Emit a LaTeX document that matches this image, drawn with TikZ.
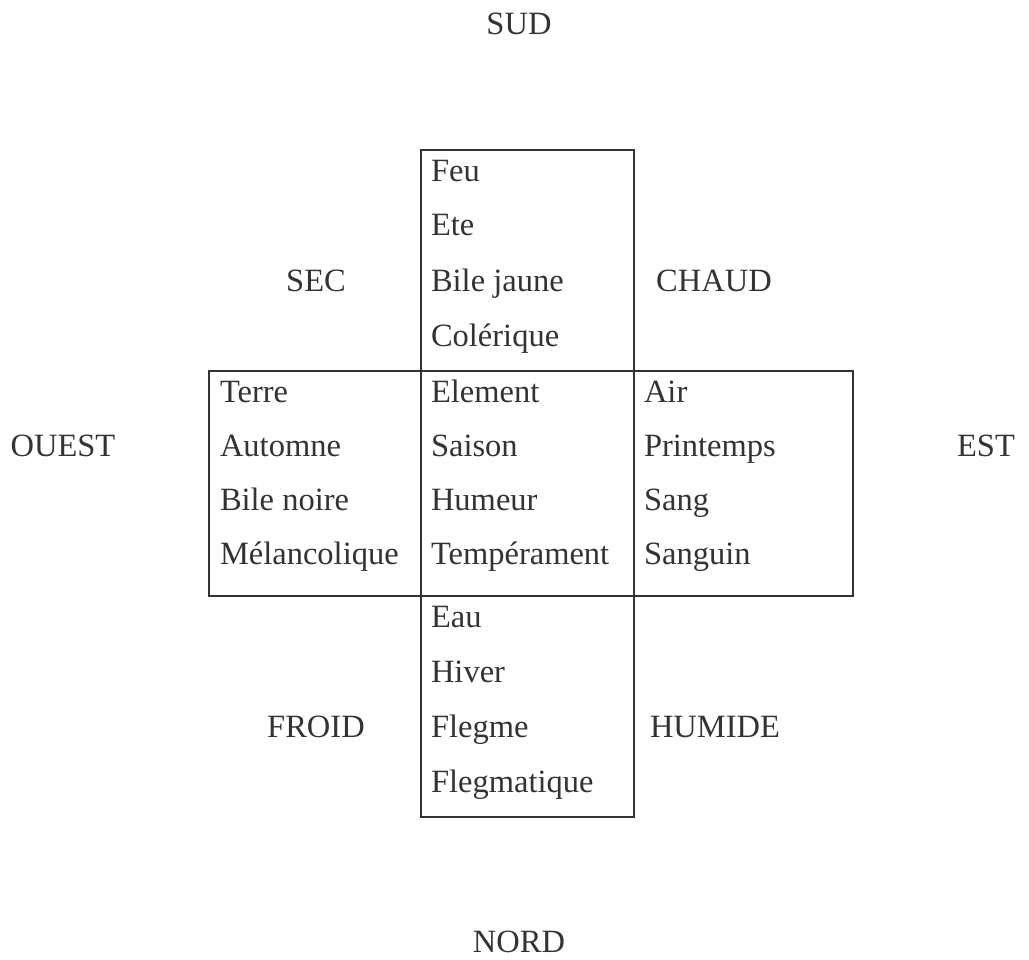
\documentclass[tikz,border=0pt]{standalone}
\usepackage{fontspec}
\setmainfont{Liberation Serif}
\usepackage{tikz}
\definecolor{ink}{HTML}{333333}

\begin{document}
\begin{tikzpicture}[x=1pt,y=-1pt,line width=2pt,draw=ink,
                    every node/.style={text=ink,inner sep=0pt,
                      font=\fontsize{32.5}{38}\selectfont}]
  \tikzstyle{cell}=[anchor=base west]
  \tikzstyle{pole}=[anchor=base]
  \useasboundingbox (0,0) rectangle (1029,960);

  % frame of the cross
  \coordinate (tl) at (421,150);
  \coordinate (br) at (634,817);
  \coordinate (ml) at (209,371);
  \coordinate (mr) at (853,596);
  \draw[ink] (tl) rectangle (br);
  \draw[ink] (ml) rectangle (mr);

  % directions and qualities
  \node[pole] (sud)    at (519,35)  {SUD};
  \node[pole] (nord)   at (519,952) {NORD};
  \node[pole] (ouest)  at (63,456)  {OUEST};
  \node[pole] (est)    at (986,456) {EST};
  \node[pole] (sec)    at (316,292) {SEC};
  \node[pole] (chaud)  at (714,292) {CHAUD};
  \node[pole] (froid)  at (316,737) {FROID};
  \node[pole] (humide) at (715,737) {HUMIDE};

  % top cell
  \node[cell] (feu)       at (430,182) {Feu};
  \node[cell] (ete)       at (430,236) {Ete};
  \node[cell] (bilej)     at (430,292) {Bile jaune};
  \node[cell] (colerique) at (430,346) {Colérique};

  % left cell
  \node[cell] (terre)     at (219,402) {Terre};
  \node[cell] (automne)   at (219,456) {Automne};
  \node[cell] (bilen)     at (219,510) {Bile noire};
  \node[cell] (melanco)   at (219,564) {Mélancolique};

  % middle cell
  \node[cell] (element)   at (430,402) {Element};
  \node[cell] (saison)    at (430,456) {Saison};
  \node[cell] (humeur)    at (430,510) {Humeur};
  \node[cell] (temper)    at (430,564) {Tempérament};

  % right cell
  \node[cell] (air)       at (643,402) {Air};
  \node[cell] (printemps) at (643,456) {Printemps};
  \node[cell] (sang)      at (643,510) {Sang};
  \node[cell] (sanguin)   at (643,564) {Sanguin};

  % bottom cell
  \node[cell] (eau)       at (430,627) {Eau};
  \node[cell] (hiver)     at (430,682) {Hiver};
  \node[cell] (flegme)    at (430,737) {Flegme};
  \node[cell] (flegmat)   at (430,792) {Flegmatique};
\end{tikzpicture}
\end{document}
